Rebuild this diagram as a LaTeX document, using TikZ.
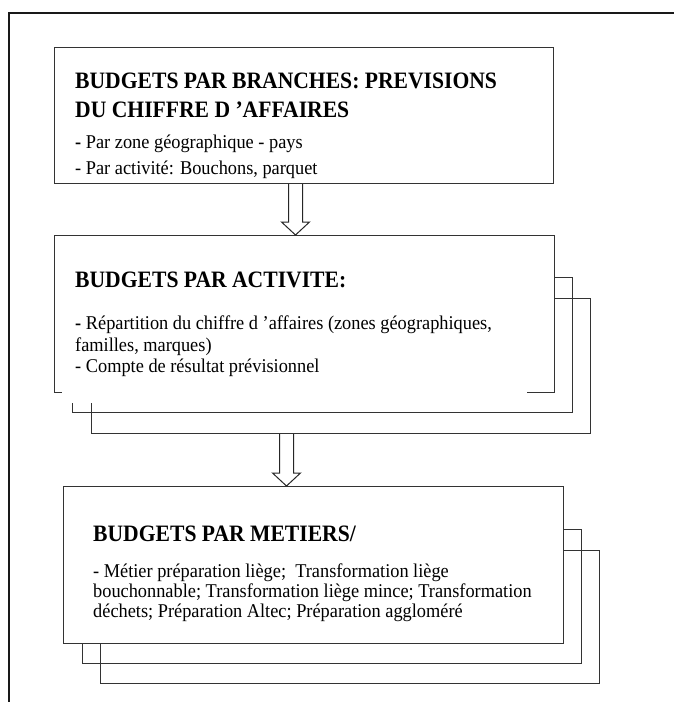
\documentclass[tikz,border=0pt]{standalone}
\usepackage{fontspec}
\setmainfont{Liberation Serif}
\newfontfamily\headfont[FakeStretch=0.92]{Liberation Serif}
\newfontfamily\linefont[FakeStretch=0.94]{Liberation Serif}
\usetikzlibrary{calc}
\begin{document}
\begin{tikzpicture}[x=1pt,y=1pt,
  frameline/.style={line width=2pt, draw=black!90},
  box/.style={rectangle, draw=black!80, line width=1pt, fill=white, inner sep=0pt, anchor=north west},
  layer/.style={rectangle, draw=black!80, line width=1pt, inner sep=0pt, anchor=north west},
  titletext/.style={anchor=base west, inner sep=0pt, font=\headfont\fontsize{23.5}{29}\selectfont\bfseries},
  bodytext/.style={anchor=base west, inner sep=0pt, font=\linefont\fontsize{19.5}{22}\selectfont},
  hollow/.style={draw=black!85, line width=1pt, fill=white, to path={
    ($(\tikztostart)+(-7,0)$) -- ($(\tikztotarget)+(-7,13)$) -- ($(\tikztotarget)+(-14,13)$)
    -- (\tikztotarget) -- ($(\tikztotarget)+(14,13)$) -- ($(\tikztotarget)+(7,13)$)
    -- ($(\tikztostart)+(7,0)$)}}
]
\useasboundingbox (0,0) rectangle (674,-702);

% outer frame (open to the right and bottom)
\coordinate (fr) at (674,-12.5);
\coordinate (fc) at (8.5,-12.5);
\coordinate (fb) at (8.5,-702);
\draw[frameline] (fr) -- (fc) -- (fb);

% first level
\node[box, minimum width=499pt, minimum height=136pt] (b1) at (54,-47) {};
\node[titletext] (b1t1) at (75,-88) {BUDGETS PAR BRANCHES: PREVISIONS};
\node[titletext] (b1t2) at (75,-117) {DU CHIFFRE D ’AFFAIRES};
\node[bodytext] (b1l1) at (75,-148) {\textbf{-} Par zone géographique - pays};
\node[bodytext] (b1l2) at (75,-174) {- Par activité: Bouchons, parquet};

% second level: stacked sheets
\node[layer, minimum width=499pt, minimum height=135pt] (s2b) at (91,-298) {};
\node[layer, minimum width=500pt, minimum height=135pt] (s2a) at (72,-277) {};
\node[box, minimum width=500pt, minimum height=157pt] (b2) at (54,-235) {};
\fill[white] (62,-387) rectangle (527,-403);
\node[titletext] (b2t) at (75,-287) {BUDGETS PAR ACTIVITE:};
\node[bodytext] (b2l1) at (75,-329) {\textbf{-} Répartition du chiffre d ’affaires (zones géographiques,};
\node[bodytext] (b2l2) at (75,-351) {familles, marques)};
\node[bodytext] (b2l3) at (75,-372) {- Compte de résultat prévisionnel};

% third level: stacked sheets
\node[layer, minimum width=499pt, minimum height=133pt] (s3b) at (100,-550) {};
\node[layer, minimum width=499pt, minimum height=134pt] (s3a) at (82,-529) {};
\node[box, minimum width=500pt, minimum height=157pt] (b3) at (63,-486) {};
\node[titletext] (b3t) at (93,-541) {BUDGETS PAR METIERS/};
\node[bodytext] (b3l1) at (93,-577) {- Métier préparation liège;\ \ Transformation liège};
\node[bodytext] (b3l2) at (93,-597) {bouchonnable; Transformation liège mince; Transformation};
\node[bodytext] (b3l3) at (93,-617) {déchets; Préparation Altec; Préparation aggloméré};

% hollow block arrows between levels
\coordinate (a1s) at ($(b1.south)+(-8.5,0)$);
\coordinate (a1t) at ($(b2.north)+(-9,0)$);
\draw[hollow] (a1s) to (a1t);
\coordinate (a2t) at ($(b3.north)+(-27,0)$);
\coordinate (a2s) at (a2t |- s2b.south);
\draw[hollow] (a2s) to (a2t);
\end{tikzpicture}
\end{document}
